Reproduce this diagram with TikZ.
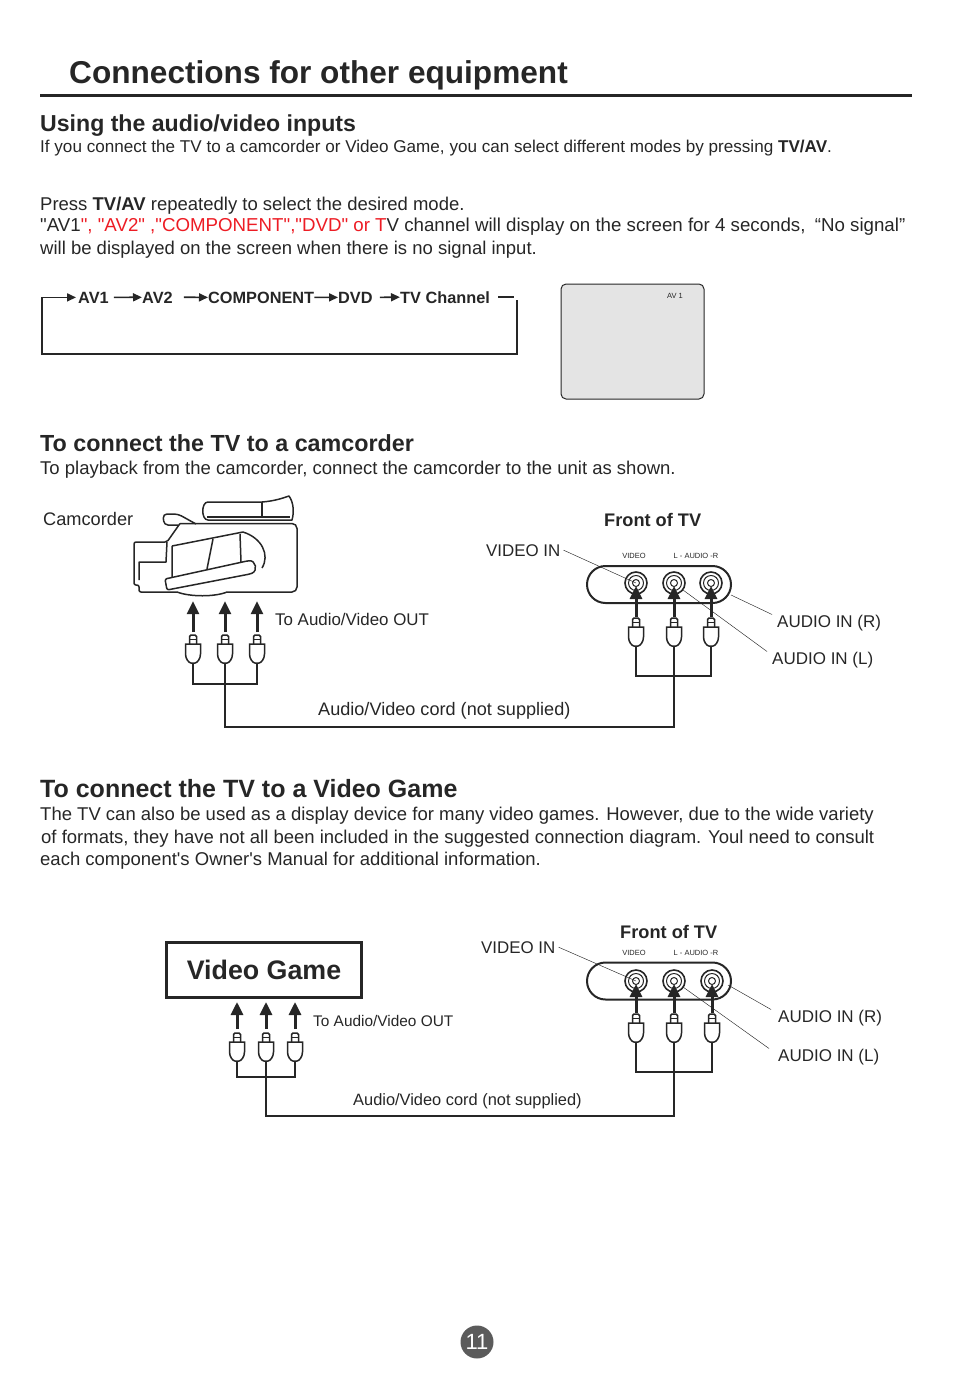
\documentclass[tikz,border=0pt]{standalone}
\usepackage{fontspec}
\setmainfont{Liberation Sans}
\newfontfamily\plainsans{Liberation Sans}
\usetikzlibrary{arrows.meta,positioning,calc}
\definecolor{ink}{HTML}{262626}
\definecolor{modered}{HTML}{ED1C24}
\definecolor{screengray}{HTML}{E4E4E4}
\definecolor{badgegray}{HTML}{5B5B5B}
\newcommand{\qt}{{\plainsans\char34}}
\newcommand{\ap}{{\plainsans\char39}}
\tikzset{
  rca/.pic={
    \draw[line width=1.5pt, draw=ink, fill=white] (-7.5,9) -- (7.5,9) -- (7.5,19) .. controls (7.5,24) and (4,28) .. (2,28) -- (-2,28) .. controls (-4,28) and (-7.5,24) .. (-7.5,19) -- cycle;
    \draw[line width=1.5pt, draw=ink, rounded corners=1.5pt] (-3.5,9) -- (-3.5,0) -- (3.5,0) -- (3.5,9);
    \draw[line width=1pt, draw=ink] (-3.5,4) -- (3.5,4);
  }
}

\begin{document}
\begin{tikzpicture}[x=1pt, y=-1pt,
    txt/.style={anchor=base west, inner sep=0pt, text=ink, font=\fontsize{18.5}{20}\selectfont},
    hd/.style={anchor=base west, inner sep=0pt, text=ink, font=\fontsize{23.3}{26}\selectfont\bfseries},
    chainitem/.style={anchor=base west, inner sep=0pt, text=ink, font=\fontsize{16.3}{19}\selectfont\bfseries},
    tiny/.style={anchor=base, inner sep=0pt, text=ink, font=\fontsize{7.5}{8}\selectfont},
    front/.style={anchor=base west, inner sep=0pt, text=ink, font=\fontsize{18.2}{20}\selectfont\bfseries},
    modearrow/.style={line width=1.7pt, draw=ink, -{Triangle[length=9pt,width=8pt]}},
    cord/.style={line width=2.8pt, draw=ink},
    lead/.style={line width=0.45pt, draw=ink},
    plugarrow/.style={line width=3pt, draw=ink, -{Triangle[length=13pt,width=12pt]}},
    jack/.style={circle, draw=ink, line width=1.6pt, fill=white, minimum size=22pt, inner sep=0pt},
    panel/.style={draw=ink, line width=2pt, rounded corners=18.5pt, minimum width=144pt, minimum height=37pt, inner sep=0pt},
    cam/.style={line width=1.5pt, draw=ink, line join=round}]

\useasboundingbox (0,0) rectangle (954,1381);

% heading
\node[anchor=base west, inner sep=0pt, text=ink, font=\fontsize{31.6}{36}\selectfont\bfseries] (title) at (69,84) {Connections for other equipment};
\draw[line width=3.6pt, draw=ink] (40,95.6) -- (912,95.6);

% audio/video inputs
\node[hd, font=\fontsize{23.1}{26}\selectfont\bfseries] (hdinputs) at (40,131) {Using the audio/video inputs};
\node[txt, font=\fontsize{17.1}{20}\selectfont] (intro) at (40,152) {If you connect the TV to a camcorder or Video Game, you can select different modes by pressing \textbf{TV/AV}.};
\node[txt] (press) at (40,210) {Press \textbf{TV/AV} repeatedly to select the desired mode.};
\node[txt, font=\fontsize{18.7}{20}\selectfont] (modes) at (40,231) {\qt AV1\textcolor{modered}{\qt, \qt AV2\qt\ ,\qt COMPONENT\qt,\qt DVD\qt\ or T}V channel will display on the screen for 4 seconds,\hspace{0.5em}“No signal”};
\node[txt] (nosignal) at (40,254) {will be displayed on the screen when there is no signal input.};

% mode cycle
\node[chainitem] (av1) at (78,303) {AV1};
\node[chainitem] (av2) at (142,303) {AV2};
\node[chainitem] (comp) at (208,303) {COMPONENT};
\node[chainitem] (dvd) at (338,303) {DVD};
\node[chainitem] (tvch) at (400,303) {TV Channel};
\coordinate (loopstart) at (517,300);
\draw[modearrow] ([xshift=5pt]av1.east) -- (av2.west);
\draw[modearrow] ([xshift=11pt]av2.east) -- (comp.west);
\draw[modearrow] (comp.east) -- (dvd.west);
\draw[modearrow] ([xshift=7pt]dvd.east) -- (tvch.west);
\draw[line width=1.6pt, draw=ink] ([xshift=8pt]tvch.east) -- ++(16,0);
\draw[modearrow] (loopstart) |- (42,354) |- ([xshift=-2pt]av1.west);

\node[draw=ink, line width=1pt, fill=screengray, rounded corners=5pt, minimum width=143pt, minimum height=115pt, inner sep=0pt] (screen) at (632.5,341.5) {};
\node[tiny] (screenlabel) at (675,298.5) {AV 1};

% camcorder
\node[hd] (hdcam) at (40,451) {To connect the TV to a camcorder};
\node[txt] (camintro) at (40,474) {To playback from the camcorder, connect the camcorder to the unit as shown.};
\node[txt, font=\fontsize{18.2}{20}\selectfont] (camlabel) at (43,525) {Camcorder};

\node[inner sep=0pt, minimum width=164pt, minimum height=106pt] (camcorder) at (216,548) {};
\draw[cam] (208,502) -- (262,502) .. controls (275,501) and (283,498) .. (289,496) .. controls (294,503) and (294,513) .. (292,520) -- (208,520) .. controls (201,520) and (201,502) .. (208,502) -- cycle;
\draw[cam] (262,502) -- (262,517) (207,517) -- (290,517);
\draw[cam, rounded corners=4pt] (178,525) -- (164,525) -- (163,514) -- (178,514) -- (196,524);
\draw[cam, rounded corners=5pt] (180,523.5) -- (297,523.5) -- (297,592) -- (227,592);
\draw[cam] (227,592) .. controls (215,597) and (190,597) .. (177,592);
\draw[cam, rounded corners=2pt] (180,523.5) -- (167,542) -- (134,542) -- (134,585) -- (139,585) -- (139,592) -- (177,592);
\draw[cam] (139,580) -- (139,562) -- (166,562) -- (167,542);
\draw[cam] (172,546) -- (243,532) .. controls (262,538) and (270,555) .. (262,568);
\draw[cam] (172,546) -- (172,577) (213,539) -- (207,569) (240,534) -- (241,562);
\draw[cam, rounded corners=2pt] (165,579) -- (247,561) .. controls (256,560) and (258,571) .. (250,574) -- (167,590) -- cycle;

\foreach \x/\n in {193/ca, 225/cb, 257/cc} {
  \pic at (\x,635) {rca};
  \coordinate (\n-top) at (\x,635);
  \coordinate (\n-bot) at (\x,663);
  \draw[plugarrow] ($(\n-top)+(0,-3)$) -- (camcorder.south -| \n-top);
}
\node[txt, font=\fontsize{16.9}{18}\selectfont] (camout) at (275,625) {To Audio/Video OUT};

% front of TV, camcorder
\node[front] (frontA) at (604,526) {Front of TV};
\node[txt, font=\fontsize{16.9}{20}\selectfont] (vidinlblA) at (486,556) {VIDEO IN};
\node[tiny] (vidtagA) at (634,558) {VIDEO};
\node[tiny] (audtagA) at (696,558) {L - AUDIO -R};
\node[panel] (panelA) at (659,584.5) {};
\foreach \x/\n in {636/vidA, 674/audLA, 711/audRA} {
  \node[jack] (\n) at (\x,583) {};
  \draw[line width=1pt, draw=ink] (\n.center) circle (7.5) (\n.center) circle (3.5);
  \pic at (\x,618) {rca};
  \coordinate (\n-top) at (\x,618);
  \coordinate (\n-bot) at (\x,646);
  \draw[plugarrow] ($(\n-top)+(0,-1)$) -- ([yshift=-3pt]\n.center);
}
\node[txt, font=\fontsize{17}{20}\selectfont] (audRlblA) at (777,627) {AUDIO IN (R)};
\node[txt, font=\fontsize{17}{20}\selectfont] (audLlblA) at (772,664) {AUDIO IN (L)};
\draw[lead] ([xshift=3pt]vidinlblA.east) -- (vidA.center);
\draw[lead] ([xshift=-5pt]audRlblA.north west) -- ($(audRA.center)+(20,12)$);
\draw[lead] ([xshift=-5pt]audLlblA.north west) -- ($(audLA.center)+(9,7)$);

\coordinate (camjoin) at (225,684);
\coordinate (tvjoinA) at (674,676);
\coordinate (cordA) at (674,727);
\draw[cord] (ca-bot) |- (camjoin) -| (cc-bot);
\draw[cord] (cb-bot) |- (cordA) -- (tvjoinA);
\draw[cord] (vidA-bot) |- (tvjoinA) -| (audRA-bot);
\draw[cord] (audLA-bot) -- (tvjoinA);
\node[txt, font=\fontsize{18.1}{20}\selectfont] (cordlblA) at (318,715) {Audio/Video cord (not supplied)};

% video game
\node[hd, font=\fontsize{25}{28}\selectfont\bfseries] (hdgame) at (40,797) {To connect the TV to a Video Game};
\node[txt] (gameintro1) at (40,820) {The TV can also be used as a display device for many video games. However, due to the wide variety};
\node[txt] (gameintro2) at (41,843) {of formats, they have not all been included in the suggested connection diagram. Youl need to consult};
\node[txt] (gameintro3) at (40,865) {each component\ap s Owner\ap s Manual for additional information.};

\node[draw=ink, line width=3pt, minimum width=195pt, minimum height=55pt, inner sep=0pt, text=ink, font=\fontsize{26.8}{30}\selectfont\bfseries] (game) at (264,970) {Video Game};
\foreach \x/\n in {237/ga, 266/gb, 295/gc} {
  \pic at (\x,1033) {rca};
  \coordinate (\n-top) at (\x,1033);
  \coordinate (\n-bot) at (\x,1061);
  \draw[plugarrow] ($(\n-top)+(0,-4)$) -- ([yshift=-3pt]game.south -| \n-top);
}
\node[txt, font=\fontsize{15.4}{17}\selectfont] (gameout) at (313,1026) {To Audio/Video OUT};

% front of TV, video game
\node[front] (frontB) at (620,938) {Front of TV};
\node[txt, font=\fontsize{16.9}{20}\selectfont] (vidinlblB) at (481,953) {VIDEO IN};
\node[tiny] (vidtagB) at (634,955) {VIDEO};
\node[tiny] (audtagB) at (696,955) {L - AUDIO -R};
\node[panel] (panelB) at (659,981) {};
\foreach \x/\n in {636/vidB, 674/audLB, 712/audRB} {
  \node[jack] (\n) at (\x,981) {};
  \draw[line width=1pt, draw=ink] (\n.center) circle (7.5) (\n.center) circle (3.5);
  \pic at (\x,1014) {rca};
  \coordinate (\n-top) at (\x,1014);
  \coordinate (\n-bot) at (\x,1042);
  \draw[plugarrow] ($(\n-top)+(0,-1)$) -- ([yshift=-3pt]\n.center);
}
\node[txt, font=\fontsize{17}{20}\selectfont] (audRlblB) at (778,1022) {AUDIO IN (R)};
\node[txt, font=\fontsize{17}{20}\selectfont] (audLlblB) at (778,1061) {AUDIO IN (L)};
\draw[lead] ([xshift=3pt]vidinlblB.east) -- (vidB.center);
\draw[lead] ([xshift=-7pt]audRlblB.north west) -- ($(audRB.center)+(16,4)$);
\draw[lead] ([xshift=-9pt]audLlblB.north west) -- ($(audLB.center)+(9,6)$);

\coordinate (gamejoin) at (266,1077);
\coordinate (tvjoinB) at (674,1072);
\coordinate (cordB) at (674,1116);
\draw[cord] (ga-bot) |- (gamejoin) -| (gc-bot);
\draw[cord] (gb-bot) |- (cordB) -- (tvjoinB);
\draw[cord] (vidB-bot) |- (tvjoinB) -| (audRB-bot);
\draw[cord] (audLB-bot) -- (tvjoinB);
\node[txt, font=\fontsize{16.4}{18}\selectfont] (cordlblB) at (353,1105) {Audio/Video cord (not supplied)};

% page number
\node[circle, fill=badgegray, minimum size=33pt, inner sep=0pt, text=white, font=\fontsize{22}{22}\selectfont] (pagenum) at (477,1342) {11};
\end{tikzpicture}
\end{document}
